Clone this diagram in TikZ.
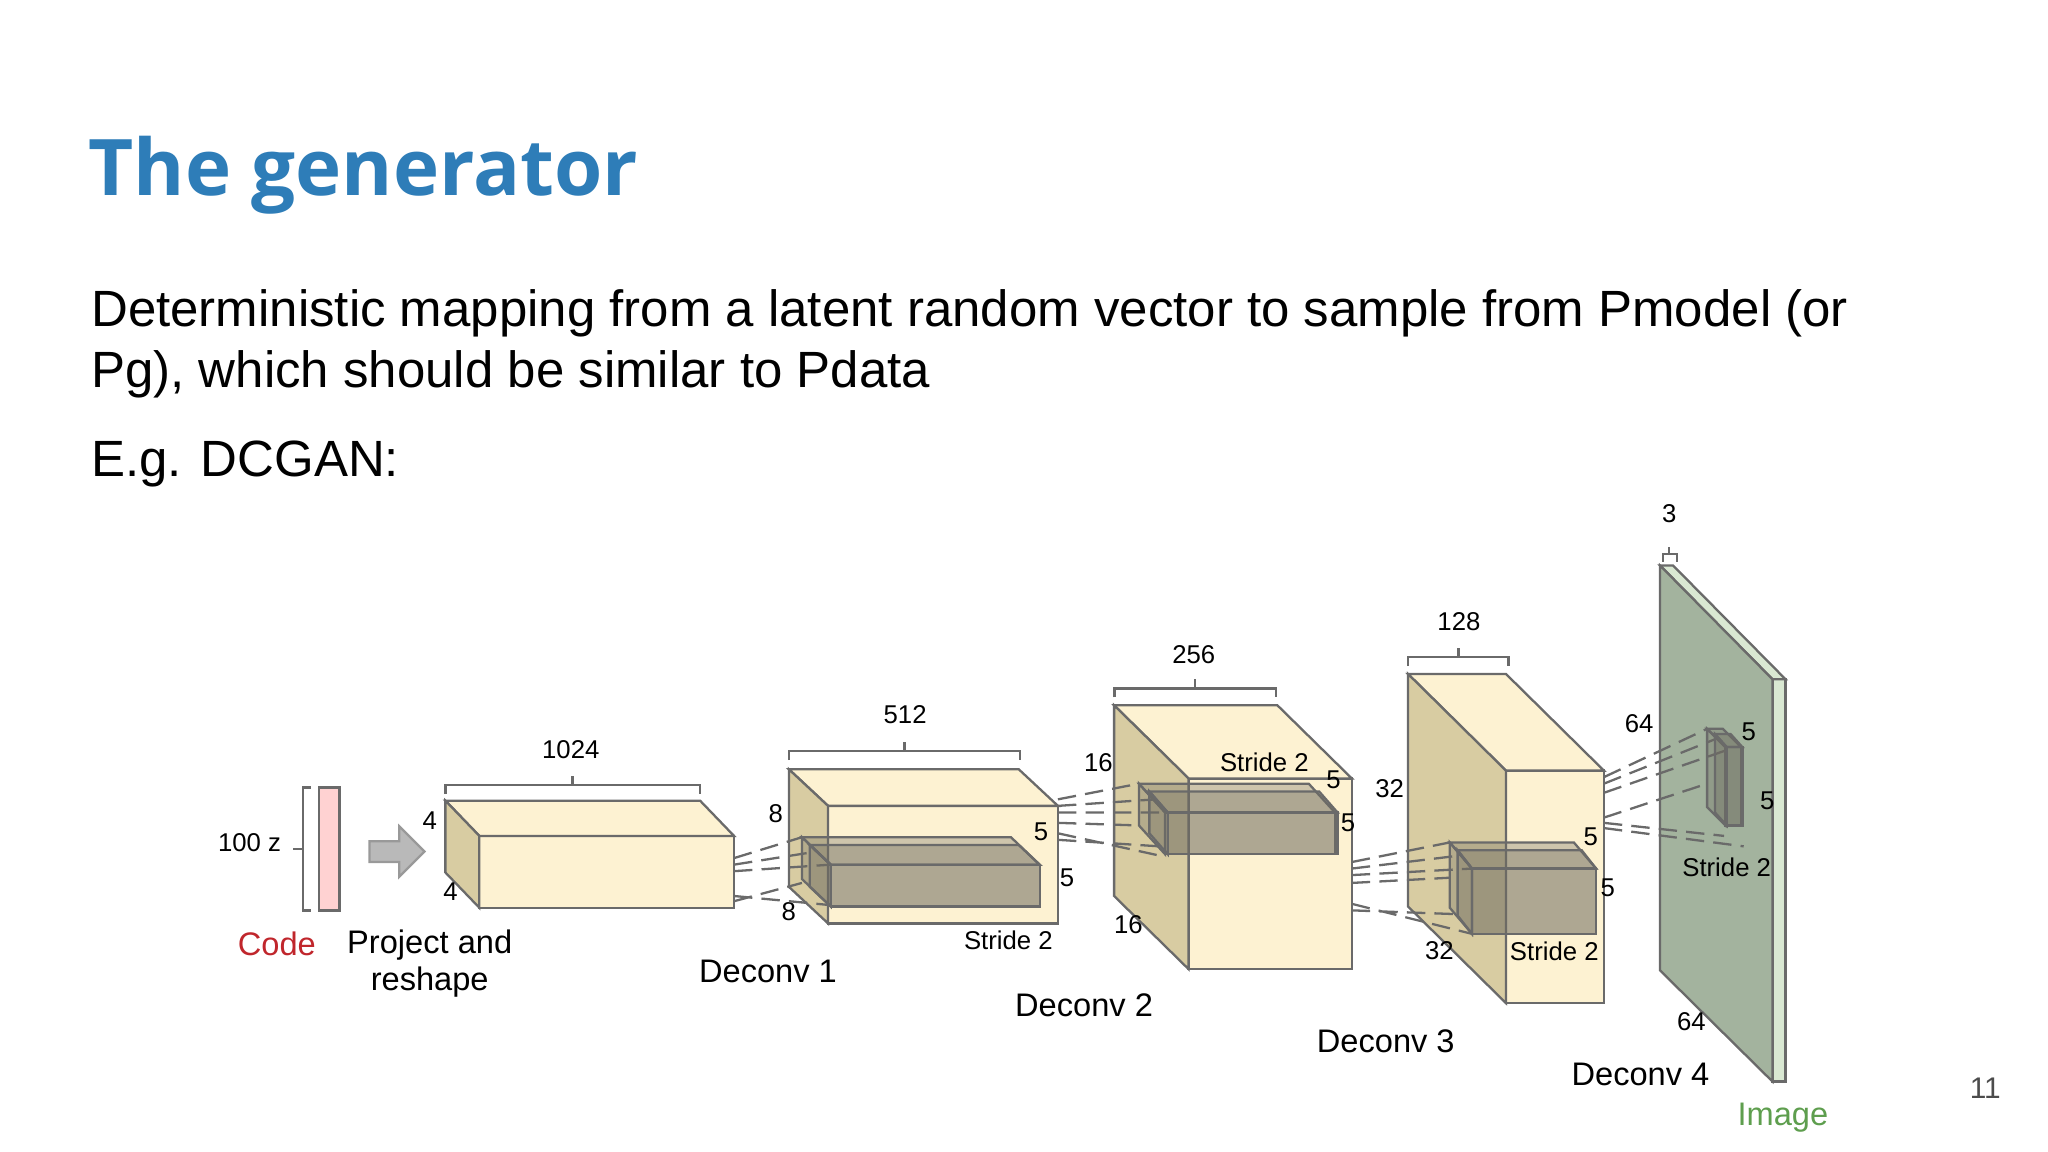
\documentclass[tikz,border=0pt]{standalone}
\usepackage{fontspec}
\setmainfont{Liberation Sans}
\newfontfamily\titlefont{Open Sans}
\definecolor{tblue}{HTML}{2E7DB8}
\definecolor{frontc}{HTML}{FDF2D2}
\definecolor{sidec}{HTML}{D8CCA2}
\definecolor{edgec}{HTML}{6A6A6A}
\definecolor{kerc}{HTML}{6F6B60}
\definecolor{imgc}{HTML}{A3B39E}
\definecolor{imgs}{HTML}{D9E8D2}
\definecolor{codec}{HTML}{C0262C}
\definecolor{imgtxt}{HTML}{5E9E4E}
\newcommand\cub[8]{%
 \filldraw[fill=#7] (#1+#5,#2+#6) rectangle ++(#3,#4);
 \filldraw[fill=#7] (#1,#2) -- ++(#3,0) -- ++(#5,#6) -- ++(-#3,0) -- cycle;
 \filldraw[fill=#8] (#1,#2) -- ++(#5,#6) -- ++(0,#4) -- ++(-#5,-#6) -- cycle;}
\newcommand\kbox[6]{%
 \begin{scope}[fill=kerc,fill opacity=0.33,draw=edgec]
 \filldraw (#1+#5,#2+#6) rectangle ++(#3,#4);
 \filldraw (#1,#2) -- ++(#3,0) -- ++(#5,#6) -- ++(-#3,0) -- cycle;
 \filldraw (#1,#2) -- ++(#5,#6) -- ++(0,#4) -- ++(-#5,-#6) -- cycle;
 \end{scope}}
\newcommand\brc[3]{\draw[edgec,line width=0.6pt] (#1,#3+7) -- (#1,#3) -- (#2,#3) -- (#2,#3+7) ($(#1,#3)!0.5!(#2,#3)$) -- ++(0,-7);}
\usetikzlibrary{calc,shapes.arrows}
\tikzset{lab/.style={font=\fontsize{5.6}{6}\selectfont,inner sep=0pt},
 dlab/.style={font=\fontsize{7.1}{8}\selectfont,inner sep=0pt},
 body/.style={font=\fontsize{11.1}{13}\selectfont,anchor=base west,inner sep=0pt},
 dl/.style={dashed,edgec,line width=0.5pt,dash pattern=on 4pt off 2pt}}
\begin{document}
\begin{tikzpicture}[x=0.01cm,y=-0.01cm,line width=0.5pt,draw=edgec]
\useasboundingbox (0,0) rectangle (1568,882);
\node[anchor=base west,inner sep=0pt,text=tblue,font=\titlefont\bfseries\fontsize{17}{20}\selectfont] (title) at (67,150) {The generator};
\node[body] (l1) at (69,250) {Deterministic mapping from a latent random vector to sample from Pmodel (or};
\node[body] (l2) at (69,297) {Pg), which should be similar to Pdata};
\node[body] (l3) at (69,365) {E.g. DCGAN:};
\node[font=\fontsize{6.5}{7}\selectfont,text=black!70] (pg) at (1520,833) {11};
% code
\filldraw[fill=pink!70,draw=edgec] (244,603) rectangle (260,697);
\draw[edgec] (238,603) -- (232,603) -- (232,697) -- (238,697) (232,650) -- (224,650);
\node[lab,anchor=east] (z) at (216,645) {100 z};
\node[dlab,text=codec] (code) at (212,723) {Code};
\node[single arrow,fill=gray!55,draw=gray!80,single arrow head extend=2.5pt,inner sep=1.5pt,minimum width=11pt,minimum height=0.42cm] (arr) at (300,652) {};
\node[dlab,align=center] (proj) at (329,738) {Project and\\reshape};
% box1
\cub{341}{613}{195}{55}{26}{27}{frontc}{sidec}
\brc{341}{536}{601}
\node[lab] at (437,574) {1024};
\node[lab] at (329,628) {4};
\node[lab] at (345,683) {4};
\node[dlab] at (588,744) {Deconv 1};
% box2
\cub{604}{589}{176}{90}{30}{28}{frontc}{sidec}
\brc{604}{781}{575}
\node[lab] at (693,547) {512};
\node[lab] at (594,623) {8};
\node[lab] at (604,698) {8};
\draw[dl] (562,657) -- (614,641) (562,662) -- (625,652) (562,667) -- (636,662) (562,686) -- (636,693) (562,690) -- (614,676);
\kbox{614}{641}{160}{32}{22}{21}
\kbox{620}{647}{160}{32}{16}{15}
\node[lab] at (797,637) {5};
\node[lab] at (817,672) {5};
\node[lab] at (772,720) {Stride 2};
\node[dlab] at (830,770) {Deconv 2};
% box3
\cub{853}{540}{125}{146}{57}{56}{frontc}{sidec}
\brc{853}{977}{527}
\node[lab] at (914,501) {256};
\node[lab] at (841,584) {16};
\node[lab] at (864,708) {16};
\draw[dl] (810,612) -- (872,600) (810,617) -- (885,612) (810,622) -- (892,622) (810,630) -- (872,632) (810,638) -- (892,656) (810,643) -- (888,648);
\kbox{872}{600}{130}{32}{20}{22}
\kbox{880}{606}{130}{32}{14}{16}
\node[lab] at (968,584) {Stride 2};
\node[lab] at (1021,597) {5};
\node[lab] at (1032,630) {5};
\node[dlab] at (1061,797) {Deconv 3};
% box4
\cub{1078}{516}{75}{178}{75}{74}{frontc}{sidec}
\brc{1078}{1155}{503}
\node[lab] at (1117,476) {128};
\node[lab] at (1064,604) {32};
\node[lab] at (1102,728) {32};
\draw[dl] (1035,660) -- (1110,645) (1035,665) -- (1118,655) (1035,670) -- (1127,665) (1035,676) -- (1110,672) (1035,692) -- (1127,715) (1035,697) -- (1118,700);
\kbox{1110}{645}{95}{50}{17}{20}
\kbox{1116}{651}{95}{50}{11}{14}
\node[lab] at (1218,641) {5};
\node[lab] at (1231,680) {5};
\node[lab] at (1190,728) {Stride 2};
\node[dlab] at (1256,823) {Deconv 4};
% image plane
\filldraw[fill=imgs] (1357,520) -- (1367,520) -- (1367,828) -- (1357,828) -- cycle;
\filldraw[fill=imgs] (1271,433) -- (1281,433) -- (1367,520) -- (1357,520) -- cycle;
\filldraw[fill=imgc] (1271,433) -- (1357,520) -- (1357,828) -- (1271,743) -- cycle;
\draw[edgec] (1273,430) -- (1273,424) -- (1284,424) -- (1284,430) (1278,424) -- (1278,419);
\node[lab] at (1278,393) {3};
\node[lab] at (1255,554) {64};
\node[lab] at (1295,782) {64};
\draw[dl] (1228,595) -- (1307,558) (1228,600) -- (1313,566) (1228,607) -- (1320,575) (1228,626) -- (1307,600) (1228,630) -- (1320,640) (1228,634) -- (1335,648);
\kbox{1307}{558}{12}{60}{14}{14}
\kbox{1313}{562}{12}{60}{9}{10}
\node[lab] at (1339,560) {5};
\node[lab] at (1353,613) {5};
\node[lab] at (1322,664) {Stride 2};
\node[dlab,text=imgtxt] at (1365,856) {Image};
\end{tikzpicture}
\end{document}
